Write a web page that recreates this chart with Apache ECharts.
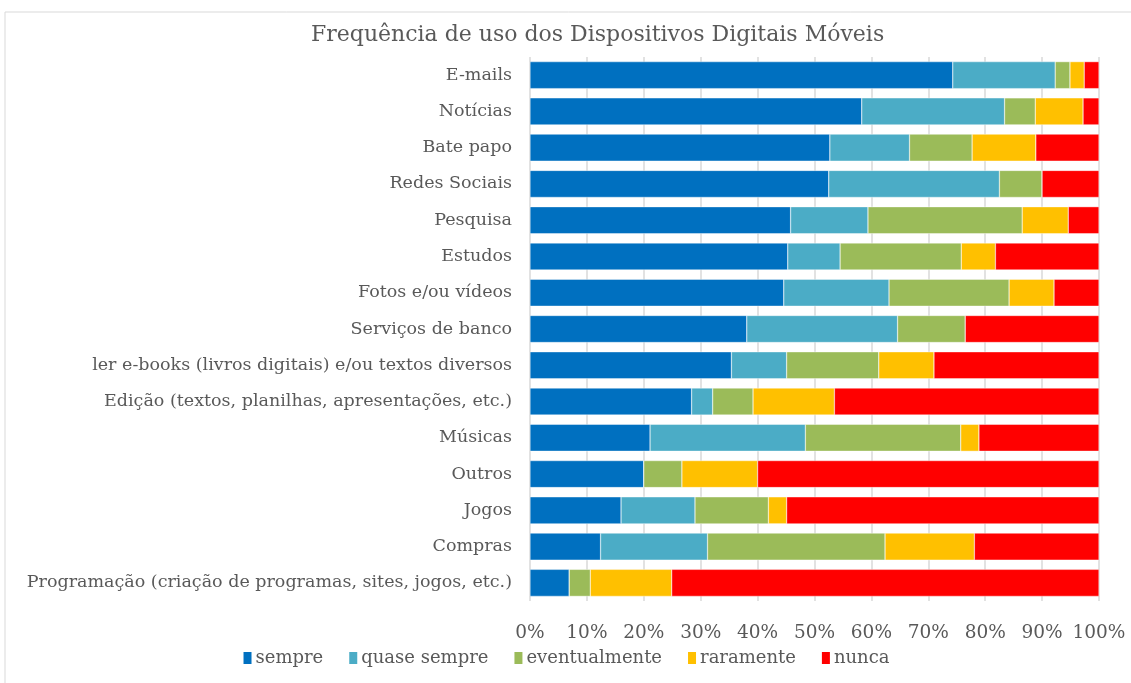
<!DOCTYPE html>
<html>
<head>
<meta charset="utf-8">
<script src="https://cdn.jsdelivr.net/npm/echarts@6/dist/echarts.min.js"></script>
<style>
  html, body { margin: 0; padding: 0; background: #fff; }
  #chartBox { width: 1131px; height: 683px; }
</style>
</head>
<body>
<div id="chartBox"></div>
<script>
// categorias (de cima para baixo)
var categories = [
  "E-mails",
  "Notícias",
  "Bate papo",
  "Redes Sociais",
  "Pesquisa",
  "Estudos",
  "Fotos e/ou vídeos",
  "Serviços de banco",
  "ler e-books (livros digitais) e/ou textos diversos",
  "Edição (textos, planilhas, apresentações, etc.)",
  "Músicas",
  "Outros",
  "Jogos",
  "Compras",
  "Programação (criação de programas, sites, jogos, etc.)"
];

// valores em % (mesma ordem das categorias)
var sempre       = [74.3, 58.3, 52.7, 52.5, 45.8, 45.3, 44.6, 38.1, 35.4, 28.4, 21.1, 20.0, 16.0, 12.4, 6.9];
var quaseSempre  = [18.0, 25.1, 14.0, 30.0, 13.6, 9.2, 18.5, 26.5, 9.7, 3.7, 27.3, 0, 13.0, 18.8, 0];
var eventualmente = [2.6, 5.4, 11.0, 7.5, 27.1, 21.3, 21.1, 11.9, 16.2, 7.1, 27.3, 6.7, 12.9, 31.2, 3.7];
var raramente    = [2.5, 8.4, 11.2, 0, 8.1, 6.0, 7.9, 0, 9.7, 14.3, 3.2, 13.3, 3.2, 15.7, 14.3];
var nunca        = [2.6, 2.8, 11.1, 10.0, 5.4, 18.2, 7.9, 23.5, 29.0, 46.5, 21.1, 60.0, 54.9, 21.9, 75.1];

var xTicks = [0, 10, 20, 30, 40, 50, 60, 70, 80, 90, 100];

var fontFam = "'DejaVu Serif', 'Liberation Serif', serif";
var txtColor = "#595959";

var seriesDefs = [
  { name: "sempre", data: sempre, color: "#0070C0" },
  { name: "quase sempre", data: quaseSempre, color: "#4BACC6" },
  { name: "eventualmente", data: eventualmente, color: "#9BBB59" },
  { name: "raramente", data: raramente, color: "#FFC000" },
  { name: "nunca", data: nunca, color: "#FF0000" }
];

var chart = echarts.init(document.getElementById("chartBox"));

var option = {
  animation: false,
  textStyle: { fontFamily: fontFam },
  graphic: [
    {
      type: "rect",
      shape: { x: 5, y: 12, width: 1140, height: 700 },
      style: { fill: "none", stroke: "#d9d9d9", lineWidth: 1 },
      silent: true
    }
  ],
  title: {
    text: "Frequência de uso dos Dispositivos Digitais Móveis",
    left: 306,
    top: 19,
    textStyle: { fontFamily: fontFam, fontSize: 22, fontWeight: "normal", color: txtColor }
  },
  legend: {
    bottom: 11,
    left: "center",
    itemWidth: 10,
    itemHeight: 14,
    itemGap: 24,
    icon: "rect",
    textStyle: { fontFamily: fontFam, fontSize: 18, color: txtColor, padding: [0, 0, 0, -2] },
    data: seriesDefs.map(function (s) { return s.name; })
  },
  grid: {
    left: 530,
    right: 32,
    top: 57,
    bottom: 82,
    containLabel: false
  },
  xAxis: {
    type: "value",
    min: 0,
    max: 100,
    interval: 10,
    axisLine: { show: false },
    axisTick: { show: false },
    splitLine: { lineStyle: { color: "#d9d9d9", width: 1.5 } },
    axisLabel: {
      formatter: "{value}%",
      fontFamily: fontFam,
      fontSize: 18.5,
      color: txtColor,
      margin: 23
    }
  },
  yAxis: {
    type: "category",
    inverse: true,
    data: categories,
    axisLine: { show: false },
    axisTick: { show: false },
    axisLabel: {
      fontFamily: fontFam,
      fontSize: 17.5,
      color: txtColor,
      margin: 18
    }
  },
  series: seriesDefs.map(function (s) {
    return {
      name: s.name,
      type: "bar",
      stack: "total",
      barWidth: 27,
      data: s.data,
      itemStyle: { color: s.color, borderColor: "#fff", borderWidth: 0.4 }
    };
  })
};

chart.setOption(option);
</script>
</body>
</html>
